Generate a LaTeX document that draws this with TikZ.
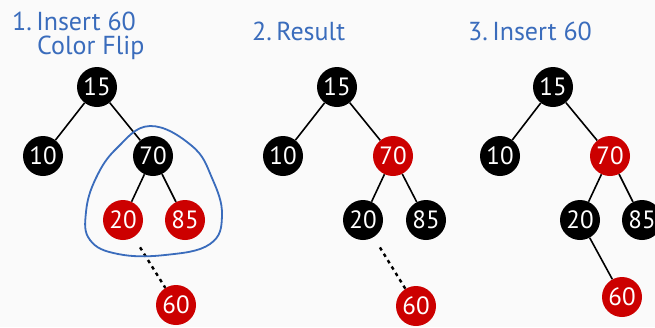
\documentclass[tikz,border=0pt]{standalone}
\usepackage{fontspec}
\setmainfont{PT Sans}
\usepackage{xcolor}
\usepackage{tikz}

\definecolor{rbred}{HTML}{CC0000}
\definecolor{titleblue}{HTML}{3A6CBC}

\tikzset{
  blk/.style={circle,fill=black,text=white,minimum size=40pt,inner sep=0pt,font=\fontsize{25}{25}\selectfont},
  rd/.style={blk,fill=rbred},
  edge/.style={line width=1.6pt},
  newedge/.style={line width=2.4pt,dash pattern=on 3.5pt off 4pt,shorten <=12pt},
  title/.style={text=titleblue,font=\fontsize{26}{24}\selectfont,anchor=base west,inner sep=0pt,align=left}
}

\begin{document}
\begin{tikzpicture}[x=1pt,y=-1pt]
  % page area
  \fill[white!98!black] (0,0) rectangle (655,327);
  \useasboundingbox (0,0) rectangle (655,327);

  % Titles (two-line node sits on its last baseline)
  \node[title] (t1) at (12,54) {1.\,Insert 60\\\hspace*{25pt}Color Flip};
  \node[title] (t2) at (252,40) {2.\,Result};
  \node[title] (t3) at (468,40) {3.\,Insert 60};

  % Tree 1
  \node[blk] (a15) at (97,87) {15};
  \node[blk] (a10) at (43,156) {10};
  \node[blk] (a70) at (153,156) {70};
  \node[rd] (a20) at (123,220) {20};
  \node[rd] (a85) at (185,220) {85};
  \node[rd] (a60) at (176,305) {60};
  \draw[edge] (a15) -- (a10);
  \draw[edge] (a15) -- (a70);
  \draw[edge] (a70) -- (a20);
  \draw[edge] (a70) -- (a85);
  \draw[newedge] (a20) -- (a60);

  % Loop around the flipped nodes
  \draw[titleblue,line width=1.8pt] plot[smooth cycle,tension=0.7] coordinates
    {(150,126) (192,146) (212,178) (222,215) (210,244) (165,255) (118,254) (90,240) (86,212) (96,178) (117,148)};

  % Tree 2
  \node[blk] (b15) at (337,87) {15};
  \node[blk] (b10) at (283,156) {10};
  \node[rd] (b70) at (393,156) {70};
  \node[blk] (b20) at (363,220) {20};
  \node[blk] (b85) at (426,220) {85};
  \node[rd] (b60) at (416,306) {60};
  \draw[edge] (b15) -- (b10);
  \draw[edge] (b15) -- (b70);
  \draw[edge] (b70) -- (b20);
  \draw[edge] (b70) -- (b85);
  \draw[newedge] (b20) -- (b60);

  % Tree 3
  \node[blk] (c15) at (553,87) {15};
  \node[blk] (c10) at (500,156) {10};
  \node[rd] (c70) at (610,156) {70};
  \node[blk] (c20) at (580,220) {20};
  \node[blk] (c85) at (642,220) {85};
  \node[rd] (c60) at (622,297) {60};
  \draw[edge] (c15) -- (c10);
  \draw[edge] (c15) -- (c70);
  \draw[edge] (c70) -- (c20);
  \draw[edge] (c70) -- (c85);
  \draw[edge] (c20) -- (c60);
\end{tikzpicture}
\end{document}
